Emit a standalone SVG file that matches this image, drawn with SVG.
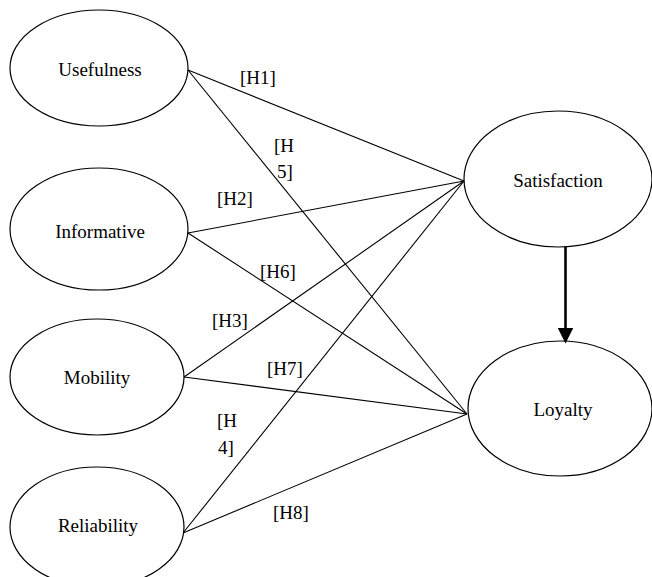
<svg xmlns="http://www.w3.org/2000/svg" width="652" height="577" viewBox="0 0 652 577">
<style>
.n{fill:#fff;stroke:#000;stroke-width:1.2}
.t{font-size:19px;fill:#000}
.c{text-anchor:middle}
.e{stroke:#000;stroke-width:1.1;fill:none}
</style>
<defs>
<marker id="ah" markerWidth="6" markerHeight="6" refX="5" refY="3" orient="auto" markerUnits="strokeWidth">
<path d="M0,0 L6,3 L0,6 z" fill="#000"/>
</marker>
</defs>
<rect width="652" height="577" fill="#fff"/>
<g font-family="'Liberation Serif', 'DejaVu Serif', serif">
<g id="usefulness"><ellipse class="n" cx="99" cy="68" rx="89" ry="58"/><text class="t c" x="100" y="76">Usefulness</text></g>
<g id="informative"><ellipse class="n" cx="99" cy="229" rx="89" ry="61"/><text class="t c" x="100" y="238">Informative</text></g>
<g id="mobility"><ellipse class="n" cx="97" cy="377" rx="87" ry="58"/><text class="t c" x="97" y="384">Mobility</text></g>
<g id="reliability"><ellipse class="n" cx="97" cy="527" rx="87" ry="60"/><text class="t c" x="98" y="532">Reliability</text></g>
<g id="satisfaction"><ellipse class="n" cx="558" cy="179" rx="94" ry="68"/><text class="t c" x="558" y="187">Satisfaction</text></g>
<g id="loyalty"><ellipse class="n" cx="560" cy="408.5" rx="92" ry="67.5"/><text class="t c" x="563" y="416">Loyalty</text></g>
</g>
<g id="connectors" font-family="'Liberation Serif', 'DejaVu Serif', serif">
<line class="e" x1="188" y1="70" x2="464" y2="181"/>
<line class="e" x1="188" y1="70" x2="467" y2="414"/>
<line class="e" x1="188" y1="233" x2="464" y2="181"/>
<line class="e" x1="188" y1="233" x2="467" y2="414"/>
<line class="e" x1="184" y1="377" x2="464" y2="181"/>
<line class="e" x1="184" y1="377" x2="467" y2="414"/>
<line class="e" x1="183" y1="533" x2="464" y2="181"/>
<line class="e" x1="183" y1="533" x2="467" y2="414"/>
<line x1="565.5" y1="247" x2="565.5" y2="341" stroke="#000" stroke-width="2.6" marker-end="url(#ah)"/>
<text class="t" x="240" y="84">[H1]</text>
<text class="t" x="274" y="152">[H</text>
<text class="t" x="277" y="178">5]</text>
<text class="t" x="217" y="205">[H2]</text>
<text class="t" x="260" y="278">[H6]</text>
<text class="t" x="212" y="327">[H3]</text>
<text class="t" x="267" y="375">[H7]</text>
<text class="t" x="217" y="427">[H</text>
<text class="t" x="218" y="454">4]</text>
<text class="t" x="273" y="519">[H8]</text>
</g>
</svg>
